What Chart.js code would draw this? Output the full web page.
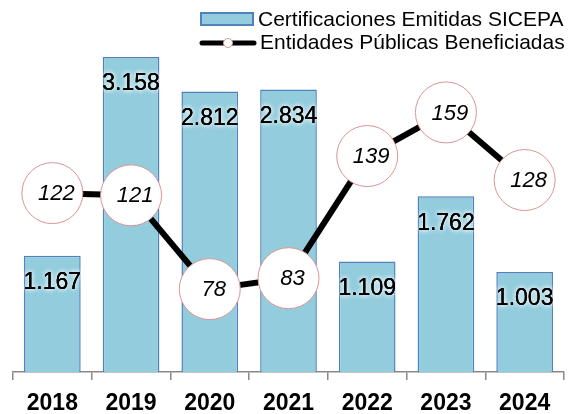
<!DOCTYPE html>
<html>
<head>
<meta charset="utf-8">
<script src="https://cdn.jsdelivr.net/npm/chart.js@4.4.1/dist/chart.umd.min.js"></script>
<style>
  html, body { margin: 0; padding: 0; background: #fff; }
  #wrap { width: 572px; height: 414px; position: relative; }
</style>
</head>
<body>
<div id="wrap"><canvas id="c" width="572" height="414"></canvas></div>
<script>
const categories = ['2018', '2019', '2020', '2021', '2022', '2023', '2024'];
const certificaciones = [1167, 3158, 2812, 2834, 1109, 1762, 1003];
const entidades = [122, 121, 78, 83, 139, 159, 128];
const seriesNames = ['Certificaciones Emitidas SICEPA', 'Entidades Públicas Beneficiadas'];

const FONT = '"Liberation Sans", Arial, sans-serif';
const BAR_FILL = '#93CDDD';
const BAR_BORDER = '#4F81BD';
const CIRCLE_BORDER = '#D99594';

function fmt(n) {
  return String(n).replace(/\B(?=(\d{3})+(?!\d))/g, '.');
}

const labelsPlugin = {
  id: 'labelsPlugin',
  afterDatasetsDraw(chart) {
    const ctx = chart.ctx;
    // bar labels
    const barMeta = chart.getDatasetMeta(1);
    ctx.save();
    ctx.font = '23px ' + FONT;
    ctx.textAlign = 'center';
    ctx.textBaseline = 'middle';
    barMeta.data.forEach((el, i) => {
      const t = fmt(chart.data.datasets[1].data[i]);
      const x = el.x, y = el.y + 27;
      ctx.shadowColor = 'rgba(255,255,255,1)';
      ctx.shadowBlur = 5;
      ctx.fillStyle = '#000';
      ctx.fillText(t, x, y);
      ctx.fillText(t, x, y);
      ctx.shadowBlur = 0;
      ctx.fillText(t, x, y);
    });
    ctx.restore();
    // line labels
    const lineMeta = chart.getDatasetMeta(0);
    ctx.save();
    ctx.font = 'italic 22px ' + FONT;
    ctx.textAlign = 'center';
    ctx.textBaseline = 'middle';
    ctx.fillStyle = '#000';
    lineMeta.data.forEach((el, i) => {
      ctx.fillText(String(chart.data.datasets[0].data[i]), el.x + 4, el.y + 1);
    });
    ctx.restore();
  },
  afterDraw(chart) {
    const ctx = chart.ctx;
    ctx.save();
    // legend item 1
    ctx.fillStyle = BAR_FILL;
    ctx.fillRect(201, 13, 52, 12);
    ctx.strokeStyle = BAR_BORDER;
    ctx.lineWidth = 2;
    ctx.strokeRect(201, 13, 52, 12);
    ctx.font = '21px ' + FONT;
    ctx.fillStyle = '#000';
    ctx.textAlign = 'left';
    ctx.textBaseline = 'middle';
    ctx.fillText(seriesNames[0], 258, 20);
    // legend item 2
    ctx.strokeStyle = '#000';
    ctx.lineWidth = 5;
    ctx.lineCap = 'round';
    ctx.beginPath();
    ctx.moveTo(202, 43);
    ctx.lineTo(254, 43);
    ctx.stroke();
    ctx.beginPath();
    ctx.arc(228, 43, 4.5, 0, Math.PI * 2);
    ctx.fillStyle = '#fff';
    ctx.fill();
    ctx.lineWidth = 1;
    ctx.strokeStyle = CIRCLE_BORDER;
    ctx.stroke();
    ctx.fillStyle = '#000';
    ctx.fillText(seriesNames[1], 260, 43);
    ctx.restore();
  }
};

new Chart(document.getElementById('c'), {
  data: {
    labels: categories,
    datasets: [
      {
        type: 'line',
        label: seriesNames[1],
        data: entidades,
        yAxisID: 'y2',
        order: 0,
        borderColor: '#000',
        borderWidth: 6,
        pointRadius: 30.5,
        pointHoverRadius: 30.5,
        pointBackgroundColor: '#fff',
        pointBorderColor: CIRCLE_BORDER,
        pointBorderWidth: 1,
        tension: 0,
        clip: false
      },
      {
        type: 'bar',
        label: seriesNames[0],
        data: certificaciones,
        yAxisID: 'y',
        order: 1,
        backgroundColor: BAR_FILL,
        borderColor: BAR_BORDER,
        borderWidth: 1.5,
        categoryPercentage: 1,
        barPercentage: 0.72
      }
    ]
  },
  options: {
    responsive: false,
    animation: false,
    events: [],
    layout: { autoPadding: false, padding: { left: 13, right: 8, top: 23, bottom: 0 } },
    plugins: { legend: { display: false }, tooltip: { enabled: false } },
    scales: {
      x: {
        type: 'category',
        offset: true,
        grid: {
          offset: true,
          drawOnChartArea: false,
          drawTicks: true,
          tickLength: 8,
          color: '#888',
          lineWidth: 1.5
        },
        border: { display: true, color: '#888', width: 1.5 },
        ticks: {
          color: '#000',
          padding: 12,
          font: { family: FONT, size: 23, weight: 'bold', lineHeight: 1 }
        },
        afterFit(s) { s.height = 42; }
      },
      y: {
        display: false,
        min: 0,
        max: 3500
      },
      y2: {
        display: false,
        position: 'right',
        min: 40,
        max: 200
      }
    }
  },
  plugins: [labelsPlugin]
});
</script>
</body>
</html>
